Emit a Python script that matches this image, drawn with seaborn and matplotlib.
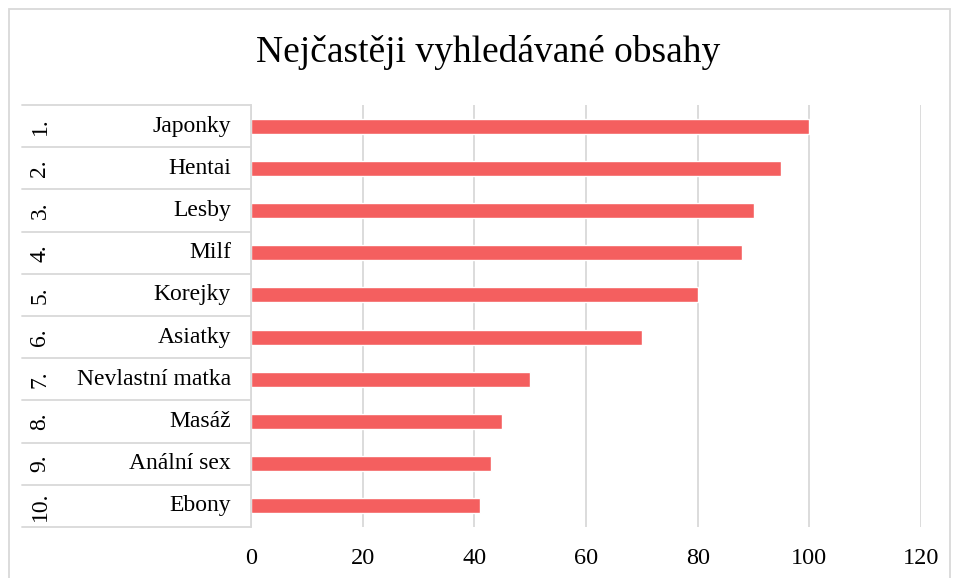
import matplotlib
matplotlib.use("Agg")
import matplotlib.pyplot as plt
import matplotlib.transforms as mtransforms
from matplotlib.patches import Rectangle
import seaborn as sns
import pandas as pd

# data
ranks = ["1.", "2.", "3.", "4.", "5.", "6.", "7.", "8.", "9.", "10."]
names = ["Japonky", "Hentai", "Lesby", "Milf", "Korejky", "Asiatky",
         "Nevlastní matka", "Masáž", "Anální sex", "Ebony"]
values = [100, 95, 90, 88, 80, 70, 50, 45, 43, 41]
xticks = [0, 20, 40, 60, 80, 100, 120]

df = pd.DataFrame({"rank": ranks, "name": names, "value": values})

sns.set_style("white")
plt.rcParams["font.family"] = ["Liberation Serif", "DejaVu Serif"]
plt.rcParams["text.color"] = "black"
plt.rcParams["xtick.color"] = "black"

W, H = 957, 578
fig = plt.figure(figsize=(W / 100, H / 100), dpi=100)
ax = fig.add_axes([251 / W, 1 - 527 / H, (921 - 251) / W, (527 - 105) / H])

sns.barplot(data=df, y="name", x="value", orient="h", color="#F45F5F",
            width=0.36, saturation=1, ax=ax)

ax.set_xlim(0, 120)
ax.set_ylim(len(names) - 0.5, -0.5)
ax.set_xticks(xticks)
ax.set_xticklabels([str(t) for t in xticks], fontsize=17.5)
ax.tick_params(axis="x", length=0, pad=15)
ax.set_yticks([])
ax.set_xlabel("")
ax.set_ylabel("")
ax.grid(axis="x", color="#d9d9d9", linewidth=1.3)
ax.set_axisbelow(True)
for s in ["top", "right", "bottom"]:
    ax.spines[s].set_visible(False)
ax.spines["left"].set_color("#d9d9d9")
ax.spines["left"].set_linewidth(1.3)

# category table left of the axis (x in pixels, y in data)
trans = mtransforms.blended_transform_factory(fig.transFigure, ax.transData)
x_left = 22 / W
x_axis = 251 / W
for i in range(len(names) + 1):
    ax.plot([x_left, x_axis], [i - 0.5, i - 0.5], transform=trans,
            color="#d9d9d9", linewidth=1.3, clip_on=False)
for i, (r, n) in enumerate(zip(ranks, names)):
    ax.text(40 / W, i, r, transform=trans, rotation=90, ha="center",
            va="center", fontsize=17, color="black")
    ax.text(231 / W, i, n, transform=trans, ha="right", va="center",
            fontsize=17, color="black")

fig.text(0.5 * (258 + 718) / W, 1 - 53 / H, "Nejčastěji vyhledávané obsahy",
         ha="center", va="center", fontsize=27, color="black")

# outer chart border
fig.patches.append(Rectangle((9 / W, -0.05), (950 - 9) / W, 1.05 - 9 / H,
                             transform=fig.transFigure, fill=False,
                             edgecolor="#d9d9d9", linewidth=1.3))

fig.savefig("out.png", dpi=100)
